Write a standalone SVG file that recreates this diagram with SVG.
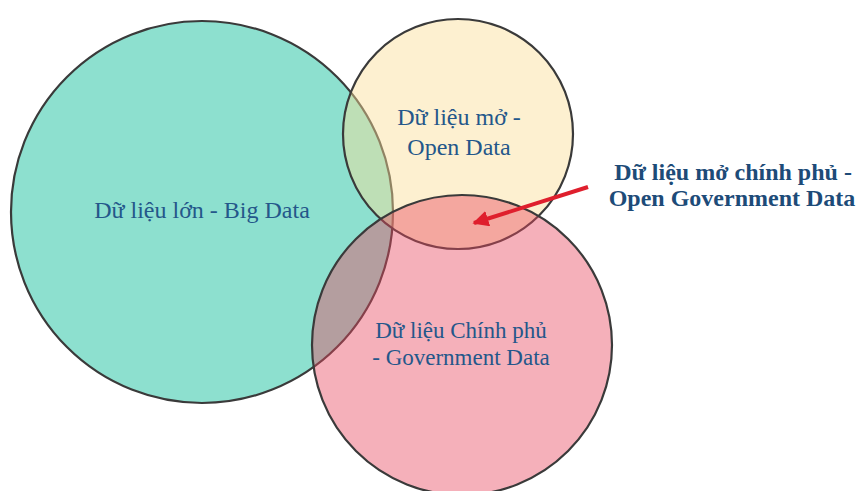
<svg xmlns="http://www.w3.org/2000/svg" width="859" height="491" viewBox="0 0 859 491">
<style>
.c{stroke:#3a3a3a;stroke-width:2.2}
.t{font-family:"Liberation Serif","DejaVu Serif",serif;fill:#24578a;text-anchor:middle}
.b{font-family:"Liberation Serif","DejaVu Serif",serif;fill:#1d4b78;font-weight:bold;text-anchor:middle;font-size:24px}
</style>
<defs>
<marker id="ah" viewBox="0 0 10 10" refX="9" refY="5" markerWidth="4" markerHeight="4" orient="auto" markerUnits="strokeWidth">
<path d="M0,0 L10,5 L0,10 Z" fill="#df1f2d"/>
</marker>
</defs>
<rect width="859" height="491" fill="#ffffff"/>
<g id="big-data">
<circle class="c" cx="202" cy="212" r="191" fill="#8de0cf"/>
<text class="t" x="202" y="218" font-size="24">Dữ liệu lớn - Big Data</text>
</g>
<g id="open-data">
<circle class="c" cx="458" cy="134" r="115" fill="#fade96" fill-opacity="0.45"/>
<text class="t" x="459" y="125" font-size="24">Dữ liệu mở -</text>
<text class="t" x="459" y="155" font-size="24">Open Data</text>
</g>
<g id="government-data">
<circle class="c" cx="462" cy="345" r="150" fill="#e8485e" fill-opacity="0.43"/>
<text class="t" x="461" y="338" font-size="23">Dữ liệu Chính phủ</text>
<text class="t" x="461" y="365" font-size="23">- Government Data</text>
</g>
<g id="open-government-data">
<text class="b" x="733" y="180">Dữ liệu mở chính phủ -</text>
<text class="b" x="732" y="206">Open Government Data</text>
</g>
<g id="connectors">
<line x1="588" y1="187" x2="474" y2="223" stroke="#df1f2d" stroke-width="4" marker-end="url(#ah)"/>
</g>
</svg>
